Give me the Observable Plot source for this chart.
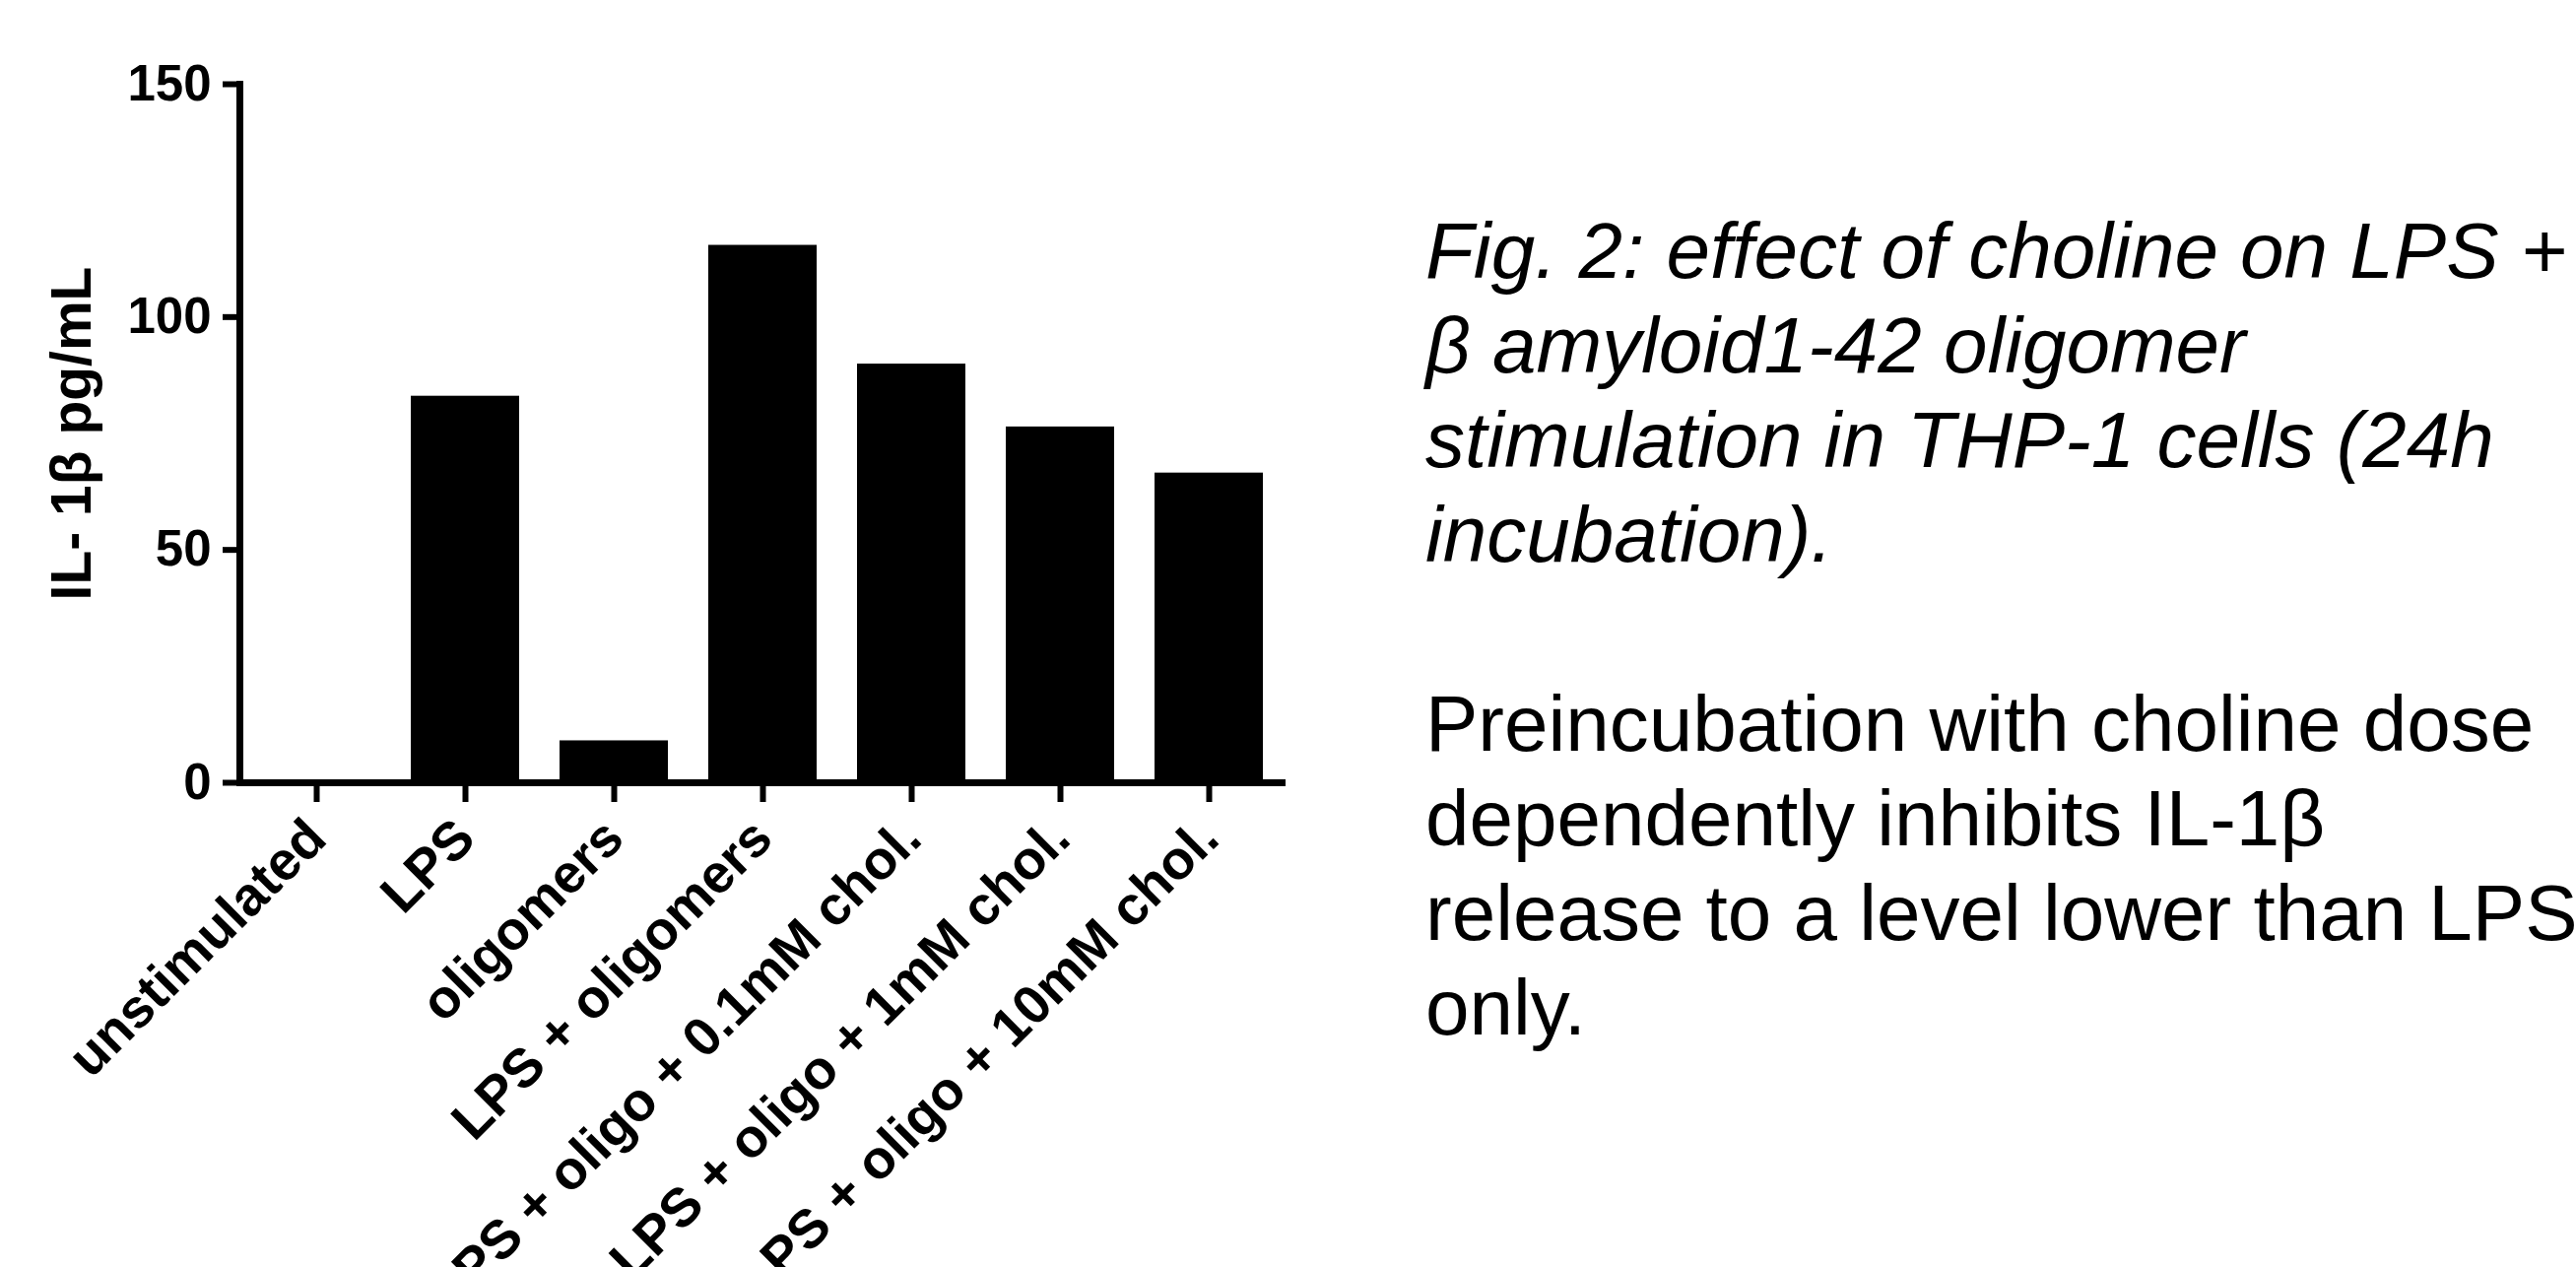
<!DOCTYPE html>
<html>
<head>
<meta charset="utf-8">
<script src="https://cdn.jsdelivr.net/npm/d3@7"></script>
<script src="https://cdn.jsdelivr.net/npm/@observablehq/plot@0.6"></script>
<style>
html, body { margin: 0; padding: 0; background: #fff; }
#wrap { position: relative; width: 2615px; height: 1286px; overflow: hidden; font-family: "Liberation Sans", Arial, sans-serif; background: #fff; }
#chart { position: absolute; left: 0; top: 0; }
.note { position: absolute; left: 1447px; font-size: 80px; line-height: 96px; white-space: nowrap; color: #000; }
#caption { top: 207px; font-style: italic; }
#comment { top: 687px; }
</style>
</head>
<body>
<div id="wrap">
  <div id="chart"></div>
  <div id="caption" class="note"></div>
  <div id="comment" class="note"></div>
</div>
<script>
const categories = [
  "unstimulated",
  "LPS",
  "oligomers",
  "LPS + oligomers",
  "LPS + oligo + 0.1mM chol.",
  "LPS + oligo + 1mM chol.",
  "LPS + oligo + 10mM chol."
];
const values = [0, 83, 9, 115.4, 89.9, 76.4, 66.5];
const yTicks = [0, 50, 100, 150];
const yTitle = "IL- 1β pg/mL";
const captionLines = [
  "Fig. 2: effect of choline on LPS +",
  "β amyloid1-42 oligomer",
  "stimulation in THP-1 cells (24h",
  "incubation)."
];
const commentLines = [
  "Preincubation with choline dose",
  "dependently inhibits IL-1β",
  "release to a level lower than LPS",
  "only."
];

const data = categories.map((c, i) => ({category: c, value: values[i]}));
const font = '"Liberation Sans", Arial, sans-serif';

const chart = Plot.plot({
  width: 1400,
  height: 1286,
  marginLeft: 243,
  marginRight: 95,
  marginTop: 85,
  marginBottom: 492,
  style: {fontFamily: font, background: "white", color: "black"},
  x: {domain: categories, paddingInner: 0.27, paddingOuter: 0.135},
  y: {domain: [0, 150]},
  marks: [
    Plot.barY(data, {x: "category", y: "value", fill: "black"}),
    Plot.ruleY([0], {stroke: "black", strokeWidth: 7}),
    Plot.frame({anchor: "left", stroke: "black", strokeWidth: 7}),
    Plot.axisY(yTicks, {tickSize: 17, tickPadding: 12, strokeWidth: 6, fontSize: 51, fontWeight: "bold", label: null}),
    Plot.axisX({tickSize: 20, tickPadding: 27, tickRotate: -45, strokeWidth: 6, fontSize: 55, fontWeight: "bold", label: null}),
    Plot.text([yTitle], {text: d => d, frameAnchor: "left", textAnchor: "middle", rotate: -90, dx: -170, fontSize: 57, fontWeight: "bold"})
  ]
});
document.getElementById("chart").appendChild(chart);

const cap = document.getElementById("caption");
captionLines.forEach((t, i) => { if (i) cap.appendChild(document.createElement("br")); cap.appendChild(document.createTextNode(t)); });
const com = document.getElementById("comment");
commentLines.forEach((t, i) => { if (i) com.appendChild(document.createElement("br")); com.appendChild(document.createTextNode(t)); });
</script>
</body>
</html>
